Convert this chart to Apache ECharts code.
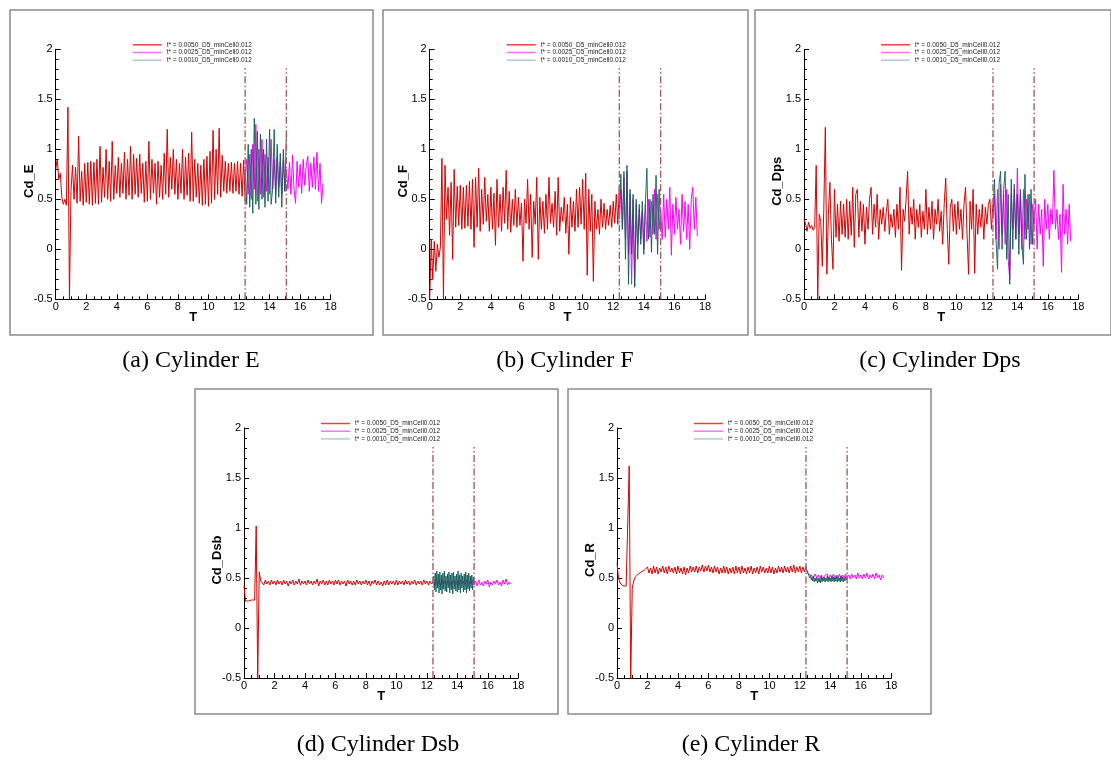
<!DOCTYPE html>
<html><head><meta charset="utf-8">
<script src="https://cdn.jsdelivr.net/npm/echarts/dist/echarts.min.js"></script>
<style>html,body{margin:0;padding:0;background:#fff}#c{width:1111px;height:762px}</style>
</head><body><div id="c"></div><script>
// ---------- data (values in hundredths of Cd) ----------
const SERIES_NAMES = ['t* = 0.0050_D5_minCell0.012','t* = 0.0025_D5_minCell0.012','t* = 0.0010_D5_minCell0.012'];
const Y_NAMES = ['Cd_E','Cd_F','Cd_Dps','Cd_Dsb','Cd_R'];
const CAPTIONS = ['(a) Cylinder E','(b) Cylinder F','(c) Cylinder Dps','(d) Cylinder Dsb','(e) Cylinder R'];
const MARK_T = [12.4, 15.1];
const MARK_Y = [-0.5, 1.81];
// sampling of each series: start time and step
const RED_T0 = 0, RED_DT = 0.1;
const MAG_T0 = 12.4, MAG_DT = 0.1;
const TEAL_T0 = 12.4;
const TEAL_DT = [0.1, 0.1, 0.1, 0.05, 0.05];

const E_RED = [80,90,70,76,52,45,50,44,142,-50,
58,84,50,82,46,113,48,78,44,86,
47,87,45,88,44,87,46,90,45,103,
47,82,52,100,50,88,48,108,50,84,
56,92,52,86,56,97,50,90,54,103,
50,95,55,91,52,95,56,86,47,88,
48,108,50,90,56,86,45,88,52,84,
50,96,55,120,52,92,60,100,55,90,
50,86,56,100,50,92,54,96,48,117,
48,90,52,86,46,84,44,90,45,93,
43,98,46,119,50,100,55,121,52,94,
58,88,56,86,58,87,56,86,58,88,
55,86,53,89,48];
const E_MAG = [75,90,55,95,50,105,60,125,48,100,
55,110,52,95,58,92,55,110,60,90,
56,92,62,88,55,90,58,80,60,87,
55,94,60,46,88,62,85,56,90,64,
84,93,58,86,62,92,60,97,58,86,
46,66];
const E_TEAL = [80,45,105,42,100,36,131,45,118,40,
115,50,100,42,110,48,120,45,60,120,
46,105,52,96,42,100,58,115];

const F_RED = [-50,10,-30,8,-22,5,-8,2,91,-50,
84,30,62,14,67,-10,80,22,63,24,
64,20,62,21,64,23,68,20,70,2,
72,22,81,18,60,25,72,28,55,18,
62,20,56,4,70,22,55,18,62,26,
79,20,58,17,50,24,60,22,52,24,
46,-12,50,26,70,20,55,-8,48,25,
72,-10,52,20,48,16,55,20,72,26,
46,22,58,14,72,18,42,28,52,16,
45,-5,52,22,48,18,60,22,62,25,
70,20,76,-26,60,18,55,-32,48,20,
40,15,50,22,46,20,40,24,44,22,
48,26,55,25,64];
const F_MAG = [30,60,20,72,10,78,-5,55,-35,50,
-37,45,5,40,10,38,0,45,8,50,
12,48,15,60,10,55,20,40,10,55,
12,50,20,62,-6,45,15,52,20,40,
5,55,18,48,10,45,0,50,62,20,
52,13];
const F_TEAL = [40,75,20,78,-10,84,-35,60,-5,55,
-38,50,-10,45,5,48,-5,45,81,10,
50,-3,55,15,74,-5,60,20];

const DPS_RED = [30,26,18,27,21,24,19,22,84,-50,
35,28,-17,40,122,-25,35,67,10,-20,
60,12,45,8,48,15,45,12,50,10,
48,14,62,2,55,60,12,48,18,45,
5,42,20,50,62,15,45,22,55,10,
40,25,42,18,38,50,15,35,22,40,
12,45,20,62,-21,40,28,50,78,15,
42,25,50,10,40,22,45,12,38,20,
60,15,42,20,48,10,40,25,50,18,
38,5,45,71,20,-15,42,50,18,45,
15,48,20,40,10,45,62,15,-25,48,
20,60,-24,45,15,40,22,45,10,42,
25,45,50,20,45];
const DPS_MAG = [30,55,10,60,0,65,15,55,5,60,
-10,-30,55,20,60,10,81,15,55,0,
60,10,50,20,55,5,45,25,50,0,
45,15,40,-17,50,20,45,10,40,25,
79,20,40,10,35,-23,65,15,40,5,
45,8];
const DPS_TEAL = [35,70,10,-20,65,78,0,60,78,-10,
55,-35,70,0,65,10,55,-5,60,5,
-15,75,10,55,0,60,5,40];

const DSB_RED = [42,27,26,27,27,28,28,28,102,-50,
56,47,48,43,48,44,47,43,48,44,
47,43,48,44,47,43,48,44,47,42,
47,44,48,43,47,44,49,43,47,44,
47,43,48,44,47,43,47,44,49,42,
47,44,48,43,47,43,48,44,47,43,
48,44,48,43,47,44,47,42,48,44,
47,43,47,43,48,44,47,43,47,44,
48,43,47,42,47,44,48,43,47,43,
46,42,47,43,48,43,47,44,47,43,
48,43,47,44,47,43,48,44,47,43,
47,44,48,43,47,44,47,43,48,44,
47,43,47,44,46];
const DSB_MAG = [45,42,48,43,47,42,48,44,47,43,
48,42,47,44,48,43,47,42,48,44,
47,43,48,42,47,44,48,43,47,42,
48,43,46,42,47,44,48,41,46,43,
47,44,48,43,46,42,48,44,49,43,
46,44];
const DSB_TEAL = [45,52,38,55,36,57,40,54,35,56,
38,53,34,55,39,57,37,52,36,54,
40,56,35,53,38,55,34,56,39,52,
37,54,36,57,38,53,35,55,40,52,
36,54,38,56,35,53,39,55,37,52,
40,53,38,51,45];

const R_RED = [65,50,45,43,42,42,42,41,162,-50,
40,47,51,50,54,53,56,55,58,56,
61,55,60,54,62,55,61,54,60,56,
62,55,61,54,62,56,60,55,61,54,
62,55,60,54,61,53,60,55,62,56,
61,56,62,55,61,57,63,56,62,57,
63,56,61,55,62,56,61,54,60,55,
62,55,61,54,60,55,61,54,62,55,
61,54,62,55,60,54,61,55,62,54,
60,55,61,54,62,56,61,55,60,55,
62,55,61,54,60,55,62,56,61,55,
62,56,61,55,62,56,63,55,61,56,
62,55,61,56,62];
const R_MAG = [60,55,57,53,55,51,54,50,53,49,
53,49,52,50,54,49,53,50,54,49,
53,50,54,49,53,50,54,50,53,49,
54,50,53,49,55,50,53,49,54,50,
55,49,53,50,54,49,55,50,53,48,
53,50];
const R_TEAL = [62,58,57,54,55,50,53,48,51,47,
52,46,50,47,51,45,50,46,49,45,
52,46,50,47,51,46,50,47,52,46,
51,47,50,46,52,47,51,46,50,47,
52,46,51,47,50,46,52,47,51,46,
50,47,51,48,50];

const PANEL_DATA = [
  [E_RED, E_MAG, E_TEAL],
  [F_RED, F_MAG, F_TEAL],
  [DPS_RED, DPS_MAG, DPS_TEAL],
  [DSB_RED, DSB_MAG, DSB_TEAL],
  [R_RED, R_MAG, R_TEAL]
];

// ---------- layout & style ----------
const LAYOUT = [
  {gl:55.7, gt:49.3, gw:275,   gh:250, box:[10,10,363,325],  cap:[191,361]},
  {gl:429.7,gt:49.3, gw:275.3, gh:250, box:[383,10,365,325], cap:[565,361]},
  {gl:804,  gt:49.3, gw:274.3, gh:250, box:[755,10,356,325], cap:[940,361]},
  {gl:244,  gt:428,  gw:274.3, gh:250, box:[195,389,363,325],cap:[378,745]},
  {gl:617,  gt:428,  gw:274.3, gh:250, box:[568,389,363,325],cap:[751,745]}
];
const LINE_COLORS = ['#d60000', '#ff00ff', '#0f5b58'];
const LEGEND_COLORS = ['#e84040', '#ff70ff', '#b2cbc7'];
const MARK_COLOR = '#a45e5e';
const SANS = '"Liberation Sans", Arial, sans-serif';

function toPairs(vals, t0, dt) {
  return vals.map((v, i) => [Math.round((t0 + i * dt) * 1000) / 1000, v / 100]);
}

const grid = [], xAxis = [], yAxis = [], legend = [], series = [], graphic = [];
LAYOUT.forEach((L, p) => {
  grid.push({left: L.gl, top: L.gt, width: L.gw, height: L.gh, containLabel: false, outerBoundsMode: 'none', show: false});
  xAxis.push({
    gridIndex: p, type: 'value', min: 0, max: 18, interval: 2,
    name: 'T', nameLocation: 'middle', nameGap: 12, nameMoveOverlap: false,
    nameTextStyle: {fontFamily: SANS, fontWeight: 'bold', fontSize: 13, color: '#000'},
    axisLine: {show: true, onZero: false, lineStyle: {color: '#000', width: 1}},
    axisTick: {show: true, inside: true, length: 5, lineStyle: {color: '#000', width: 1}},
    minorTick: {show: true, splitNumber: 4, length: 3, lineStyle: {color: '#000', width: 1}},
    splitLine: {show: false}, minorSplitLine: {show: false},
    axisLabel: {fontFamily: SANS, fontSize: 11, color: '#000', margin: 2}
  });
  yAxis.push({
    gridIndex: p, type: 'value', min: -0.5, max: 2, interval: 0.5,
    name: Y_NAMES[p], nameLocation: 'middle', nameGap: 20, nameMoveOverlap: false,
    nameTextStyle: {fontFamily: SANS, fontWeight: 'bold', fontSize: 13, color: '#000', padding: [0, 14, 0, 0]},
    axisLine: {show: true, onZero: false, lineStyle: {color: '#000', width: 1}},
    axisTick: {show: true, inside: true, length: 5, lineStyle: {color: '#000', width: 1}},
    minorTick: {show: true, splitNumber: 5, length: 3, lineStyle: {color: '#000', width: 1}},
    splitLine: {show: false}, minorSplitLine: {show: false},
    axisLabel: {fontFamily: SANS, fontSize: 11, color: '#000', margin: 3}
  });
  legend.push({
    orient: 'vertical', left: L.gl + 77, top: L.gt - 8, padding: 0,
    itemWidth: 29, itemHeight: 1.5, itemGap: 0.7,
    textStyle: {fontFamily: SANS, fontSize: 6.5, color: '#222', lineHeight: 7},
    data: SERIES_NAMES.map((n, k) => ({name: n, icon: 'rect', itemStyle: {color: LEGEND_COLORS[k], borderWidth: 0}})),
    selectedMode: false
  });
  const d = PANEL_DATA[p];
  const t0s = [RED_T0, MAG_T0, TEAL_T0];
  const dts = [RED_DT, MAG_DT, TEAL_DT[p]];
  d.forEach((vals, k) => {
    series.push({
      name: SERIES_NAMES[k], type: 'line', xAxisIndex: p, yAxisIndex: p,
      data: toPairs(vals, t0s[k], dts[k]),
      symbol: 'none', showSymbol: false, sampling: null, animation: false,
      lineStyle: {color: LINE_COLORS[k], width: 1, opacity: k === 2 ? 0.9 : 1},
      itemStyle: {color: LINE_COLORS[k]},
      z: 2 + k
    });
  });
  MARK_T.forEach((t, m) => {
    series.push({
      name: 'marker', type: 'line', xAxisIndex: p, yAxisIndex: p,
      data: [[t, MARK_Y[0]], [t, MARK_Y[1]]],
      symbol: 'none', silent: true, animation: false,
      lineStyle: {color: MARK_COLOR, width: 1.4, type: [7, 2.5, 1.5, 2.5]},
      z: 6
    });
  });
  graphic.push({type: 'rect', silent: true,
    shape: {x: L.box[0], y: L.box[1], width: L.box[2], height: L.box[3]},
    style: {fill: 'none', stroke: '#8a8a8a', lineWidth: 1.5}});
  graphic.push({type: 'text', silent: true, x: L.cap[0], y: L.cap[1],
    style: {text: CAPTIONS[p], font: '24px "Liberation Serif", "Times New Roman", serif', fill: '#000',
      align: 'center', verticalAlign: 'middle', textAlign: 'center', textVerticalAlign: 'middle'}});
});

const chart = echarts.init(document.getElementById('c'), null, {renderer: 'canvas'});
chart.setOption({
  backgroundColor: '#fff', animation: false,
  grid, xAxis, yAxis, legend, series, graphic, tooltip: {show: false}
});
</script></body></html>
